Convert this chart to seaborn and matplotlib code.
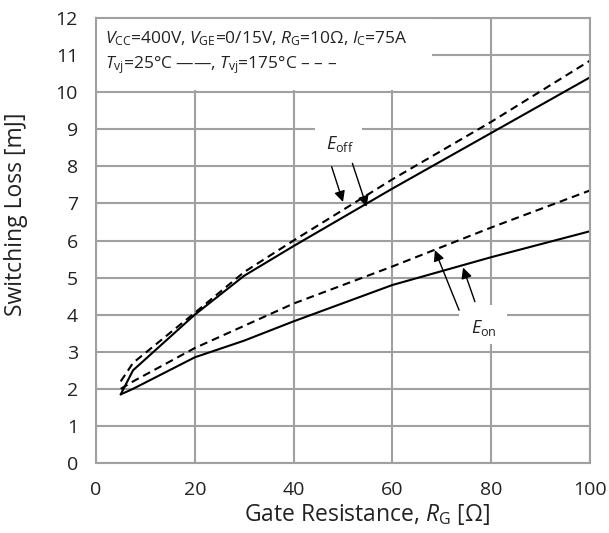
import matplotlib
matplotlib.use("Agg")
import matplotlib.pyplot as plt
import seaborn as sns
import pandas as pd
from matplotlib.patches import Rectangle

# ---- data ----
rg = [5, 7.5, 20, 30, 40, 60, 80, 100]
eoff_25 = [1.85, 2.5, 4.0, 5.05, 5.85, 7.4, 8.9, 10.4]
eoff_175 = [2.2, 2.7, 4.05, 5.15, 6.0, 7.65, 9.2, 10.85]
eon_25 = [1.85, 2.0, 2.85, 3.3, 3.82, 4.8, 5.55, 6.25]
eon_175 = [2.0, 2.2, 3.1, 3.7, 4.3, 5.3, 6.35, 7.35]

x_ticks = [0, 20, 40, 60, 80, 100]
y_ticks = list(range(0, 13))

cond_line1 = r"$V_{\mathrm{CC}}$=400V, $V_{\mathrm{GE}}$=0/15V, $R_{\mathrm{G}}$=10Ω, $I_{\mathrm{C}}$=75A"
cond_line2 = r"$T_{\mathrm{vj}}$=25°C ——, $T_{\mathrm{vj}}$=175°C – – –"
xlabel = r"Gate Resistance, $R_{\mathrm{G}}$ [Ω]"
ylabel = "Switching Loss [mJ]"

sns.set_theme(style="white")
FONT = "Open Sans"
plt.rcParams["font.family"] = [FONT, "DejaVu Sans"]
plt.rcParams["mathtext.fontset"] = "custom"
plt.rcParams["mathtext.rm"] = FONT
plt.rcParams["mathtext.it"] = FONT + ":italic"
plt.rcParams["mathtext.bf"] = FONT + ":bold"

GRID = "#a0a0a0"
TXT = "#222222"

fig = plt.figure(figsize=(6.09, 5.33), dpi=100)
ax = fig.add_axes([96 / 609, 70 / 533, 494 / 609, 445 / 533])

df = pd.DataFrame({"rg": rg, "eoff25": eoff_25, "eoff175": eoff_175,
                   "eon25": eon_25, "eon175": eon_175})
for col, ls in [("eoff25", "-"), ("eoff175", "--"), ("eon25", "-"), ("eon175", "--")]:
    sns.lineplot(data=df, x="rg", y=col, ax=ax, color="black", lw=1.5,
                 linestyle=ls, zorder=4)
for l in ax.get_lines():
    if l.get_linestyle() == "--":
        l.set_dashes([3.8, 2.4])

ax.set_xlim(0, 100)
ax.set_ylim(0, 12)
ax.set_xticks(x_ticks)
ax.set_yticks(y_ticks)
ax.grid(True, color=GRID, lw=1.5, zorder=0)
ax.set_axisbelow(True)
for s in ax.spines.values():
    s.set_color(GRID)
    s.set_linewidth(1.5)
    s.set_zorder(6)
ax.tick_params(length=0, pad=13, labelsize=14, labelcolor=TXT)

ax.set_xlabel(xlabel, fontsize=16.5, color=TXT)
ax.set_ylabel(ylabel, fontsize=16.5, color=TXT)
ax.xaxis.set_label_coords(0.549, -0.088)
ax.yaxis.set_label_coords(-0.138, 0.56)

# condition box (white area covering grid)
ax.add_patch(Rectangle((0.3, 10.06), 67.7, 1.92, facecolor="white", edgecolor="none", zorder=2))
ax.text(1.8, 11.45, cond_line1, fontsize=12.5, va="center", ha="left", color=TXT, zorder=5)
ax.text(1.8, 10.72, cond_line2, fontsize=12.5, va="center", ha="left", color=TXT, zorder=5)

# label backgrounds
ax.add_patch(Rectangle((44.3, 8.2), 9.5, 1.1, facecolor="white", edgecolor="none", zorder=2))
ax.add_patch(Rectangle((73.5, 3.2), 9.7, 1.05, facecolor="white", edgecolor="none", zorder=2))
ax.text(49.3, 8.6, r"$E_{\mathrm{off}}$", fontsize=13, ha="center", va="center", color=TXT, zorder=5)
ax.text(78.6, 3.64, r"$E_{\mathrm{on}}$", fontsize=13, ha="center", va="center", color=TXT, zorder=5)

arrows = [((47.7, 7.99), (50.0, 7.04)), ((51.9, 8.08), (54.8, 6.91)),
          ((73.5, 4.12), (68.6, 5.74)), ((76.7, 4.35), (74.3, 5.27))]
for tail, tip in arrows:
    ax.annotate("", xy=tip, xytext=tail,
                arrowprops=dict(arrowstyle="-|>", color="black", lw=1.0,
                                mutation_scale=16, shrinkA=0, shrinkB=0),
                zorder=5)

fig.savefig("out.png", dpi=100)
